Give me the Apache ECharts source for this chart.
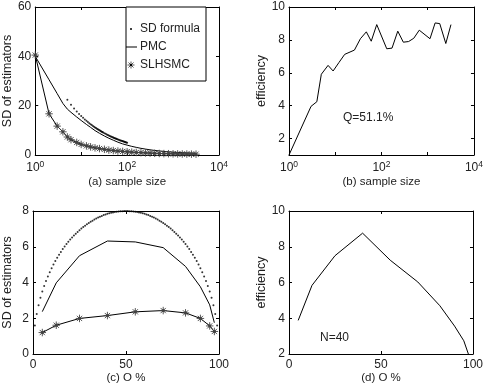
<!DOCTYPE html>
<html><head><meta charset="utf-8">
<script src="https://cdn.jsdelivr.net/npm/echarts@6/dist/echarts.min.js"></script>
<style>html,body{margin:0;padding:0;background:#fff}#c{width:486px;height:385px}</style>
</head><body><div id="c"></div>
<script>
// ---------- panel (a): SD of estimators vs sample size ----------
const aN = [1,2,3,4,5,6,8,10,13,16,20,25,32,40,50,63,80,100,126,158,200,251,316,398,501,631,794,1000,1259,1585,1995,2512,3162];
const aPMC = [40,30.5,24.9,20.9,18.6,17.3,15.4,14.0,12.4,11.2,9.9,8.8,7.7,6.8,6.0,5.2,4.5,4.0,3.5,3.1,2.7,2.4,2.1,1.85,1.65,1.45,1.3,1.15,1.05,0.95,0.85,0.78,0.7];
const aSLHSMC = [40.5,16.7,11.7,9.4,7.3,6.2,5.1,4.3,3.7,3.3,2.9,2.6,2.3,2.0,1.8,1.6,1.45,1.3,1.15,1.05,0.95,0.85,0.78,0.7,0.62,0.57,0.52,0.48,0.44,0.41,0.38,0.35,0.33];
const aFormulaN = [5,6,7,8,9,10,11,12,13,14,15,16,17,18,19,20,21,22,23,24,25,26,27,28,29,30,32,34,36,38,40,42,44,46,48,50,52,54,56,58,60,63,66,69,72,75,78,81,84,87,90,93,96,100];
const aFormulaSD = [22.36,20.41,18.90,17.68,16.67,15.81,15.08,14.43,13.87,13.36,12.91,12.50,12.13,11.79,11.47,11.18,10.91,10.66,10.43,10.21,10.00,9.81,9.62,9.45,9.28,9.13,8.84,8.57,8.33,8.11,7.91,7.72,7.54,7.37,7.22,7.07,6.93,6.80,6.68,6.57,6.45,6.30,6.15,6.02,5.89,5.77,5.66,5.56,5.46,5.36,5.27,5.18,5.10,5.00];
const aYTicks = [0,20,40,60];
// ---------- panel (b): efficiency vs sample size ----------
const bN = [1,3,4,5,7,9,12,16,26,35,47,60,79,130,169,225,297,386,500,656,1120,1446,1820,2460,3180];
const bEff = [1.0,3.96,4.24,5.91,6.45,6.11,6.62,7.12,7.38,8.07,8.49,7.92,8.93,7.46,7.5,8.53,7.86,7.9,8.1,8.59,8.07,9.03,8.99,7.78,8.93];
const bYTicks = [2,4,6,8,10];
// ---------- panel (c): SD of estimators vs O % ----------
const cDotP = [1,2,3,4,5,6,7,8,9,10,11,12,13,14,15,16,17,18,19,20,21,22,23,24,25,26,27,28,29,30,31,32,33,34,35,36,37,38,39,40,41,42,43,44,45,46,47,48,49,50,51,52,53,54,55,56,57,58,59,60,61,62,63,64,65,66,67,68,69,70,71,72,73,74,75,76,77,78,79,80,81,82,83,84,85,86,87,88,89,90,91,92,93,94,95,96,97,98,99];
const cDotSD = [1.59,2.24,2.73,3.14,3.49,3.80,4.08,4.34,4.58,4.80,5.01,5.20,5.38,5.55,5.71,5.87,6.01,6.15,6.28,6.40,6.52,6.63,6.73,6.83,6.93,7.02,7.10,7.18,7.26,7.33,7.40,7.46,7.52,7.58,7.63,7.68,7.72,7.77,7.80,7.84,7.87,7.90,7.92,7.94,7.96,7.97,7.99,7.99,8.00,8.00,8.00,7.99,7.99,7.97,7.96,7.94,7.92,7.90,7.87,7.84,7.80,7.77,7.72,7.68,7.63,7.58,7.52,7.46,7.40,7.33,7.26,7.18,7.10,7.02,6.93,6.83,6.73,6.63,6.52,6.40,6.28,6.15,6.01,5.87,5.71,5.55,5.38,5.20,5.01,4.80,4.58,4.34,4.08,3.80,3.49,3.14,2.73,2.24,1.59];
const cP = [5,12.5,25,40,55,70,82,90,95,97.5];
const cPMC = [2.37,3.98,5.5,6.32,6.27,5.95,4.9,3.76,2.75,1.75];
const cSLHSMC = [1.2,1.61,1.99,2.15,2.36,2.43,2.3,1.99,1.57,1.26];
// ---------- panel (d): efficiency vs O % ----------
const dP = [5,12.5,25,40,55,70,82,90,95,97.5];
const dEff = [3.88,5.84,7.5,8.76,7.25,6.03,4.7,3.56,2.74,2.0];

const FONT = 'Liberation Sans, Arial, Helvetica, sans-serif';
const TXT = '#222';
const pairs = (xs, ys) => xs.map((x, i) => [x, ys[i]]);
const line = {show: true, onZero: false, lineStyle: {color: '#000', width: 1}};
const tick = {show: true, inside: true, length: 3, lineStyle: {color: '#000', width: 1}};
const lab = {color: TXT, fontFamily: FONT, fontSize: 12};
const xNameStyle = {color: TXT, fontFamily: FONT, fontSize: 11.5};
const yNameStyle = {color: TXT, fontFamily: FONT, fontSize: 12.5};

const grids = [
  {left: 33, top: 7, width: 186, height: 148},
  {left: 289, top: 7, width: 186, height: 148},
  {left: 32, top: 211, width: 187, height: 146},
  {left: 289, top: 211, width: 187, height: 146}
];

const logFmt = v => {
  const e = Math.round(Math.log10(v));
  return e % 2 === 0 ? '10{s|' + e + '}' : '';
};
const logLabel = Object.assign({}, lab, {margin: 5, formatter: logFmt,
  rich: {s: {fontSize: 8.5, fontFamily: FONT, color: TXT, padding: [0, 0, 7, 0]}}});

function xLog(g, name) {
  return [
    {type: 'log', gridIndex: g, logBase: 10, min: 1, max: 10000, position: 'bottom',
     axisLine: line, axisTick: tick, splitLine: {show: false}, axisLabel: logLabel,
     name: name, nameLocation: 'middle', nameGap: 21, nameTextStyle: xNameStyle},
    {type: 'log', gridIndex: g, logBase: 10, min: 1, max: 10000, position: 'top',
     axisLine: line, axisTick: tick, splitLine: {show: false}, axisLabel: {show: false}}
  ];
}
function xLin(g, name) {
  const common = {type: 'value', gridIndex: g, min: 0, max: 100, interval: 50,
    axisLine: line, axisTick: tick, splitLine: {show: false}};
  return [
    Object.assign({}, common, {position: 'bottom', axisLabel: Object.assign({}, lab, {margin: 5}),
      name: name, nameLocation: 'middle', nameGap: 18, nameTextStyle: xNameStyle}),
    Object.assign({}, common, {position: 'top', axisLabel: {show: false}})
  ];
}
function yAx(g, min, max, ticks, name, gap) {
  const common = {type: 'value', gridIndex: g, min: min, max: max,
    axisLine: line, splitLine: {show: false},
    axisTick: Object.assign({}, tick, {customValues: ticks})};
  return [
    Object.assign({}, common, {position: 'left',
      axisLabel: Object.assign({}, lab, {margin: 4, customValues: ticks}),
      name: name, nameLocation: 'middle', nameGap: gap, nameTextStyle: yNameStyle}),
    Object.assign({}, common, {position: 'right', axisLabel: {show: false}})
  ];
}

const xAxis = [].concat(
  xLog(0, '(a) sample size'), xLog(1, '(b) sample size'),
  xLin(2, '(c) O %'), xLin(3, '(d) O %'));
const yAxis = [].concat(
  yAx(0, 0, 60, aYTicks, 'SD of estimators', 20),
  yAx(1, 1, 10, bYTicks, 'efficiency', 19),
  yAx(2, 0, 8, [0,2,4,6,8], 'SD of estimators', 19),
  yAx(3, 2, 10, [2,4,6,8,10], 'efficiency', 19));

const STAR = 'path://M4,0V8M0,4H8M1.2,1.2L6.8,6.8M6.8,1.2L1.2,6.8M3,3H5V5H3Z';
const starStyle = {color: '#000', borderColor: '#444', borderWidth: 0.9};

const series = [
  {name: 'SD formula', type: 'scatter', xAxisIndex: 0, yAxisIndex: 0, data: pairs(aFormulaN, aFormulaSD),
   symbol: 'circle', symbolSize: 2, itemStyle: {color: '#000'}},
  {name: 'PMC', type: 'line', xAxisIndex: 0, yAxisIndex: 0, data: pairs(aN, aPMC),
   symbol: 'none', lineStyle: {color: '#000', width: 1}},
  {name: 'SLHSMC', type: 'line', xAxisIndex: 0, yAxisIndex: 0, data: pairs(aN, aSLHSMC),
   symbol: STAR, symbolSize: 7.5, showAllSymbol: true, lineStyle: {color: '#000', width: 1}, itemStyle: starStyle},
  {type: 'line', xAxisIndex: 2, yAxisIndex: 2, data: pairs(bN, bEff),
   symbol: 'none', lineStyle: {color: '#000', width: 1}},
  {type: 'scatter', xAxisIndex: 4, yAxisIndex: 4, data: pairs(cDotP, cDotSD),
   symbol: 'circle', symbolSize: 2, itemStyle: {color: '#000'}},
  {type: 'line', xAxisIndex: 4, yAxisIndex: 4, data: pairs(cP, cPMC),
   symbol: 'none', lineStyle: {color: '#000', width: 1}},
  {type: 'line', xAxisIndex: 4, yAxisIndex: 4, data: pairs(cP, cSLHSMC),
   symbol: STAR, symbolSize: 7.5, lineStyle: {color: '#000', width: 1}, itemStyle: starStyle},
  {type: 'line', xAxisIndex: 6, yAxisIndex: 6, data: pairs(dP, dEff),
   symbol: 'none', lineStyle: {color: '#000', width: 1}}
];

const legendFont = {fill: TXT, fontFamily: FONT, fontSize: 12, verticalAlign: 'middle'};
const sx = 131, sy = 65, r = 3.5, d = 2.5;
const starLine = (x1, y1, x2, y2) => ({type: 'line', shape: {x1: x1, y1: y1, x2: x2, y2: y2}, style: {stroke: '#444', lineWidth: 0.9}, z: 11});
const graphic = [
  {type: 'rect', shape: {x: 126, y: 7, width: 80, height: 74}, style: {fill: '#fff', stroke: '#000', lineWidth: 1}, z: 10},
  {type: 'circle', shape: {cx: 131, cy: 29, r: 1}, style: {fill: '#000'}, z: 11},
  {type: 'text', x: 140, y: 29, style: Object.assign({text: 'SD formula'}, legendFont), z: 11},
  {type: 'line', shape: {x1: 126, y1: 47, x2: 137, y2: 47}, style: {stroke: '#000', lineWidth: 1}, z: 11},
  {type: 'text', x: 140, y: 47, style: Object.assign({text: 'PMC'}, legendFont), z: 11},
  starLine(sx, sy - r, sx, sy + r), starLine(sx - r, sy, sx + r, sy),
  starLine(sx - d, sy - d, sx + d, sy + d), starLine(sx + d, sy - d, sx - d, sy + d),
  {type: 'rect', shape: {x: sx - 1, y: sy - 1, width: 2, height: 2}, style: {fill: '#000'}, z: 12},
  {type: 'text', x: 140, y: 65, style: Object.assign({text: 'SLHSMC'}, legendFont), z: 11},
  {type: 'text', x: 343, y: 118, style: Object.assign({text: 'Q=51.1%'}, legendFont), z: 11},
  {type: 'text', x: 320, y: 338, style: Object.assign({text: 'N=40'}, legendFont), z: 11}
];

const chart = echarts.init(document.getElementById('c'), null, {renderer: 'canvas'});
chart.setOption({animation: false, backgroundColor: '#fff', grid: grids, xAxis: xAxis, yAxis: yAxis, series: series, graphic: graphic});
</script></body></html>
